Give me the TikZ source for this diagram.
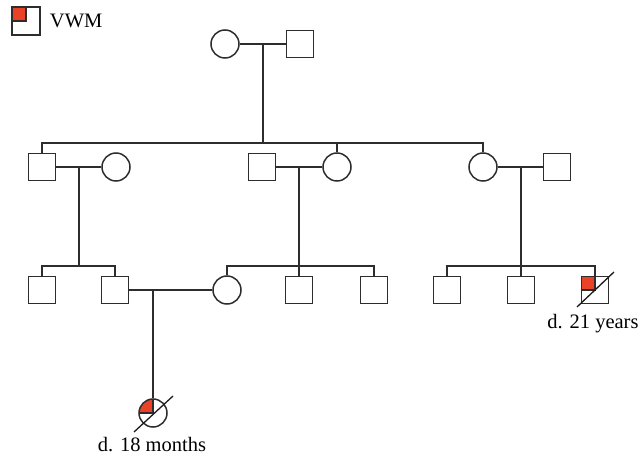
\documentclass[tikz,border=0pt]{standalone}
\usepackage{fontspec}
\setmainfont{Liberation Serif}
\usepackage{tikz}
\usetikzlibrary{positioning}
\definecolor{vwmred}{RGB}{233,66,38}
\definecolor{pedline}{RGB}{45,45,45}
\tikzset{male/.style={rectangle, draw=pedline, line width=1.5pt, minimum size=27pt, inner sep=0pt}}
\tikzset{female/.style={circle, draw=pedline, line width=1.5pt, minimum size=28pt, inner sep=0pt}}
\tikzset{vwm/.style={path picture={\filldraw[fill=vwmred, draw=pedline, line width=1.5pt] (path picture bounding box.north west) rectangle (path picture bounding box.center);}}}
\tikzset{link/.style={draw=pedline, line width=1.5pt}}
\tikzset{slash/.style={draw=black!90, line width=1.3pt}}
\tikzset{pedtext/.style={font=\fontsize{20.5}{24}\selectfont, inner sep=0pt}}

\begin{document}
\begin{tikzpicture}[x=1pt, y=-1pt]
    \useasboundingbox (0,0) rectangle (641,457);
    % legend
    \node [male, vwm, minimum size=28pt](key) at (26,21){};
    \node [pedtext, right=9pt of key](keytext){VWM};

    % generation I
    \node [female](gm) at (225,44){};
    \node [male](gf) at (300,44){};
    \coordinate (m1) at (263,44);
    \coordinate (s1) at (263,143);

    % generation II
    \node [male](a) at (42,167){};
    \node [female](aw) at (116,167){};
    \node [male](bh) at (262,167){};
    \node [female](b) at (337,167){};
    \node [female](c) at (483,167){};
    \node [male](ch) at (557,167){};
    \coordinate (m2a) at (79,167);
    \coordinate (m2b) at (299,167);
    \coordinate (m2c) at (521,167);
    \coordinate (s2a) at (79,266);
    \coordinate (s2b) at (299,266);
    \coordinate (s2c) at (521,266);

    % generation III
    \node [male](a1) at (42,290){};
    \node [male](a2) at (115,290){};
    \node [female](b1) at (227,290){};
    \node [male](b2) at (299,290){};
    \node [male](b3) at (374,290){};
    \node [male](c1) at (447,290){};
    \node [male](c2) at (521,290){};
    \node [male, vwm](c3) at (595,290){};
    \coordinate (m3) at (153,290);

    % generation IV
    \node [female, vwm](d1) at (153,413){};

    \draw[link] (gm) -- (gf);
    \draw[link] (m1) -- (s1);
    \draw[link] (a.north) |- (s1) -| (c.north);
    \draw[link] (s1 -| b.north) -- (b.north);

    \draw[link] (a) -- (aw);
    \draw[link] (bh) -- (b);
    \draw[link] (c) -- (ch);
    \draw[link] (m2a) -- (s2a);
    \draw[link] (m2b) -- (s2b);
    \draw[link] (m2c) -- (s2c);

    \draw[link] (a1.north) |- (s2a) -| (a2.north);
    \draw[link] (b1.north) |- (s2b) -| (b3.north);
    \draw[link] (s2b) -- (b2.north);
    \draw[link] (c1.north) |- (s2c) -| (c3.north);
    \draw[link] (s2c) -- (c2.north);

    \draw[link] (a2) -- (b1);
    \draw[link] (m3) -- (d1);

    % deceased
    \draw[slash] ([shift={(-19,19)}]d1.center) -- ([shift={(20,-17)}]d1.center);
    \draw[slash] ([shift={(-18,17)}]c3.center) -- ([shift={(19,-18)}]c3.center);
    \node [pedtext](d1lab) at (152,445){d. 18 months};
    \node [pedtext](c3lab) at (593,324){d. 21 years};
\end{tikzpicture}
\end{document}
